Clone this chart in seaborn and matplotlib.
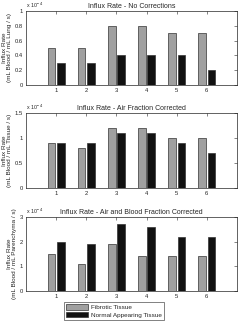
import matplotlib
matplotlib.use("Agg")
import matplotlib.pyplot as plt
import seaborn as sns
import pandas as pd
from matplotlib.ticker import FuncFormatter
from matplotlib.patches import Patch

categories = ["1", "2", "3", "4", "5", "6"]
series_names = ["Fibrotic Tissue", "Normal Appearing Tissue"]
fib_none = [0.5, 0.5, 0.8, 0.8, 0.7, 0.7]
norm_none = [0.3, 0.3, 0.4, 0.4, 0.4, 0.2]
fib_air = [0.9, 0.8, 1.2, 1.2, 1.0, 1.0]
norm_air = [0.9, 0.9, 1.1, 1.1, 0.9, 0.7]
fib_blood = [1.5, 1.1, 1.9, 1.4, 1.4, 1.4]
norm_blood = [2.0, 1.9, 2.7, 2.6, 2.2, 2.2]
titles = ["Influx Rate - No Corrections", "Influx Rate - Air Fraction Corrected",
          "Influx Rate - Air and Blood Fraction Corrected"]
ylabels = ["Influx Rate\n(mL Blood / mL Lung / s)", "Influx Rate\n(mL Blood / mL Tissue / s)",
           "Influx Rate\n(mL Blood / mL Parenchyma / s)"]
yticks = [[0, 0.2, 0.4, 0.6, 0.8, 1], [0, 0.5, 1, 1.5], [0, 1, 2, 3]]

sns.set_style("white")
plt.rcParams['font.family'] = ['Liberation Sans', 'DejaVu Sans']
colors = ["#a0a0a0", "#111111"]

fig = plt.figure(figsize=(2.41, 3.25), dpi=100)
W, H = 241, 325
boxes = [(26, 11, 237, 85), (26, 113, 237, 188), (26, 217, 237, 291)]
data = [(fib_none, norm_none), (fib_air, norm_air), (fib_blood, norm_blood)]
fs = 4.6
for i, (b, (f, n)) in enumerate(zip(boxes, data)):
    x0, y0, x1, y1 = b
    ax = fig.add_axes([x0 / W, 1 - y1 / H, (x1 - x0) / W, (y1 - y0) / H])
    df = pd.DataFrame({
        "cat": categories * 2,
        "val": f + n,
        "series": [series_names[0]] * 6 + [series_names[1]] * 6,
    })
    sns.barplot(data=df, x="cat", y="val", hue="series", palette=colors, ax=ax,
                width=0.62, gap=0.18, edgecolor="#333333", linewidth=0.5, legend=False)
    ax.set_xlim(-1, 6)
    ax.set_ylim(yticks[i][0], yticks[i][-1])
    ax.set_yticks(yticks[i])
    ax.yaxis.set_major_formatter(FuncFormatter(lambda v, p: "%g" % v))
    ax.set_xlabel("")
    ax.set_ylabel(ylabels[i], fontsize=fs, labelpad=2, linespacing=1.0)
    ax.set_title(titles[i], fontsize=fs + 0.4, pad=2)
    ax.tick_params(axis="both", labelsize=fs - 0.4, direction="in", length=2, width=0.4,
                   pad=2, top=True, right=True)
    for s in ax.spines.values():
        s.set_visible(True)
        s.set_color("#222222")
        s.set_linewidth(0.5)
    ax.text(0.0, 1.01, r"x 10$^{-4}$", transform=ax.transAxes, fontsize=fs - 0.8,
            ha="left", va="bottom")

handles = [Patch(facecolor=colors[0], edgecolor="#333333", linewidth=0.5, label=series_names[0]),
           Patch(facecolor=colors[1], edgecolor="#333333", linewidth=0.5, label=series_names[1])]
leg = fig.legend(handles=handles, loc="center", bbox_to_anchor=(114 / W, 1 - 311 / H),
                 fontsize=fs, frameon=True, fancybox=False, handlelength=3.5, handleheight=1.0,
                 borderpad=0.3, labelspacing=0.2, handletextpad=0.4, borderaxespad=0)
leg.get_frame().set_edgecolor("#222222")
leg.get_frame().set_linewidth(0.5)

fig.savefig("out.png", dpi=100)
